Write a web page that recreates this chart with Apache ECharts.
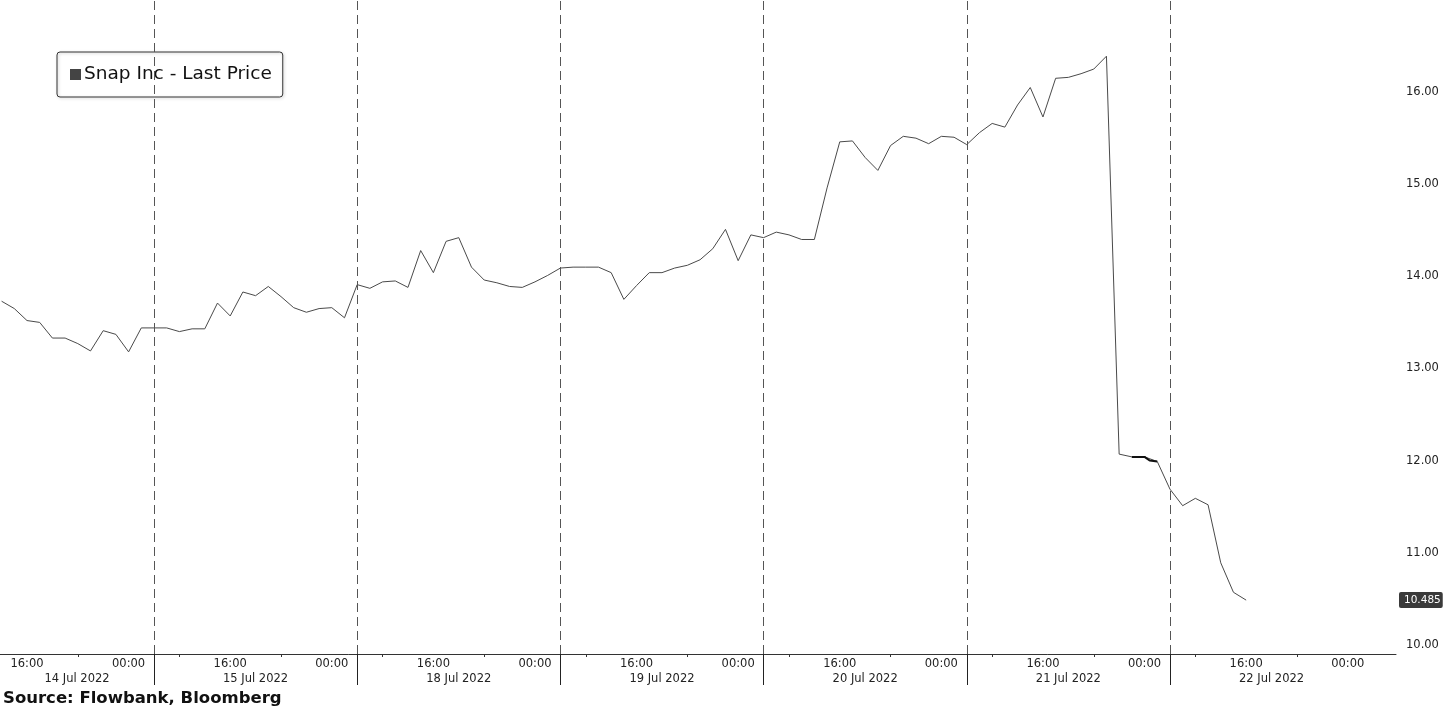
<!DOCTYPE html>
<html>
<head>
<meta charset="utf-8">
<script src="https://cdn.jsdelivr.net/npm/echarts@6/dist/echarts.min.js"></script>
<style>
html,body{margin:0;padding:0;background:#fff;}
#chart{width:1443px;height:706px;}
</style>
</head>
<body>
<div id="chart"></div>
<script>
// x is measured in trading hours (16 per day, day k spans [16k, 16k+16]), hour 0 = 14 Jul 10:00
const seriesName = 'Snap Inc - Last Price';
const priceStartHour = 4;
const prices = [
  13.73, 13.65, 13.52, 13.50, 13.33, 13.33, 13.27, 13.19, 13.41, 13.37, 13.18, 13.44, 13.44,
  13.44, 13.40, 13.43, 13.43, 13.71, 13.57, 13.83, 13.79, 13.89, 13.78, 13.66, 13.61, 13.65, 13.66, 13.55, 13.91,
  13.87, 13.94, 13.95, 13.88, 14.28, 14.04, 14.38, 14.42, 14.10, 13.96, 13.93, 13.89, 13.88, 13.94, 14.01, 14.09,
  14.10, 14.10, 14.10, 14.04, 13.75, 13.90, 14.04, 14.04, 14.09, 14.12, 14.18, 14.30, 14.51, 14.17, 14.45, 14.42,
  14.48, 14.45, 14.40, 14.40, 14.96, 15.46, 15.47, 15.29, 15.15, 15.42, 15.52, 15.50, 15.44, 15.52, 15.51, 15.43,
  15.56, 15.66, 15.62, 15.86, 16.05, 15.73, 16.15, 16.16, 16.20, 16.25, 16.39, 12.07, 12.04, 12.04, 11.99,
  11.69, 11.51, 11.59, 11.52, 10.89, 10.57, 10.485
];
// dense after-hours ticks drawn heavier
const detailHours = [93, 94, 94.4, 95];
const detailPrices = [12.04, 12.04, 12.00, 11.99];
const lastPrice = 10.485;

const xMin = 3.874, xMax = 113.8;
const dayBoundaries = [16, 32, 48, 64, 80, 96];
const dayLabelHours = [9.94, 24, 40, 56, 72, 88, 104];
const dayLabels = ['14 Jul 2022', '15 Jul 2022', '18 Jul 2022', '19 Jul 2022', '20 Jul 2022', '21 Jul 2022', '22 Jul 2022'];
const timeLabelHours = [6, 14, 22, 30, 38, 46, 54, 62, 70, 78, 86, 94, 102, 110];
const timeLabelTexts = ['16:00', '00:00'];
const minorTickHours = [10, 18, 26, 34, 42, 50, 58, 66, 74, 82, 90, 98, 106];
const yTicks = [10, 11, 12, 13, 14, 15, 16];

const FONT = "'DejaVu Sans', Verdana, sans-serif";

const lineData = prices.map((p, i) => [priceStartHour + i, p]);
const detailData = detailHours.map((h, i) => [h, detailPrices[i]]);

const chart = echarts.init(document.getElementById('chart'));
chart.setOption({
  animation: false,
  backgroundColor: '#fff',
  title: {
    text: 'Source: Flowbank, Bloomberg',
    left: 3, top: 690, padding: 0,
    textStyle: {fontFamily: FONT, fontSize: 16.5, fontWeight: 'bold', color: '#111'}
  },
  legend: {
    data: [seriesName],
    left: 57, top: 52,
    orient: 'horizontal',
    padding: [13, 11, 13, 13],
    borderColor: '#333', borderWidth: 1, borderRadius: 3,
    shadowColor: 'rgba(0,0,0,0.25)', shadowBlur: 3, shadowOffsetX: 1, shadowOffsetY: 1,
    icon: 'rect', itemWidth: 11, itemHeight: 11, itemGap: 4,
    textStyle: {fontFamily: FONT, fontSize: 18.5, color: '#111', padding: [0, 0, 0, -2]}
  },
  grid: {left: 0, right: 47, top: 0, bottom: 52, containLabel: false, outerBoundsMode: 'none'},
  xAxis: [
    {
      type: 'value', min: xMin, max: xMax, position: 'bottom',
      axisLine: {show: true, lineStyle: {color: '#333', width: 1}},
      axisTick: {show: true, customValues: minorTickHours, length: 3, lineStyle: {color: '#333'}},
      axisLabel: {
        customValues: timeLabelHours, margin: 4,
        fontFamily: FONT, fontSize: 11.5, color: '#222',
        formatter: v => timeLabelTexts[((Math.round(v) % 16) === 6) ? 0 : 1]
      },
      splitLine: {show: false}
    },
    {
      type: 'value', min: xMin, max: xMax, position: 'bottom',
      axisLine: {show: false},
      axisTick: {show: true, customValues: dayBoundaries, length: 31, lineStyle: {color: '#222', width: 1}},
      axisLabel: {
        customValues: dayLabelHours, margin: 19,
        fontFamily: FONT, fontSize: 11.5, color: '#222',
        formatter: v => dayLabels[dayLabelHours.indexOf(v)]
      },
      splitLine: {show: false}
    }
  ],
  yAxis: [
    {
      type: 'value', min: 9.9, max: 17, position: 'right',
      axisLine: {show: false}, axisTick: {show: false}, splitLine: {show: false},
      axisLabel: {customValues: yTicks, margin: 10, fontFamily: FONT, fontSize: 11.5, color: '#222',
        formatter: v => v.toFixed(2)}
    },
    {
      type: 'value', min: 9.9, max: 17, position: 'right',
      axisLine: {show: false}, axisTick: {show: false}, splitLine: {show: false},
      axisLabel: {customValues: [lastPrice], margin: 3, fontFamily: FONT, fontSize: 10.5, color: '#fff',
        backgroundColor: '#3a3a3a', padding: [3, 2, 2, 5], borderRadius: 2,
        formatter: v => String(lastPrice)}
    }
  ],
  series: [
    {
      name: seriesName, type: 'line', xAxisIndex: 0, yAxisIndex: 0,
      data: lineData, symbol: 'none', color: '#444',
      lineStyle: {width: 1, color: '#4a4a4a'},
      markLine: {
        silent: true, symbol: 'none', label: {show: false},
        lineStyle: {type: [9, 5], color: '#555', width: 1},
        data: dayBoundaries.map(v => ({xAxis: v}))
      }
    },
    {
      name: 'detail', type: 'line', xAxisIndex: 0, yAxisIndex: 0,
      data: detailData, symbol: 'none',
      lineStyle: {width: 2, color: '#111'}
    }
  ]
});
</script>
</body>
</html>
